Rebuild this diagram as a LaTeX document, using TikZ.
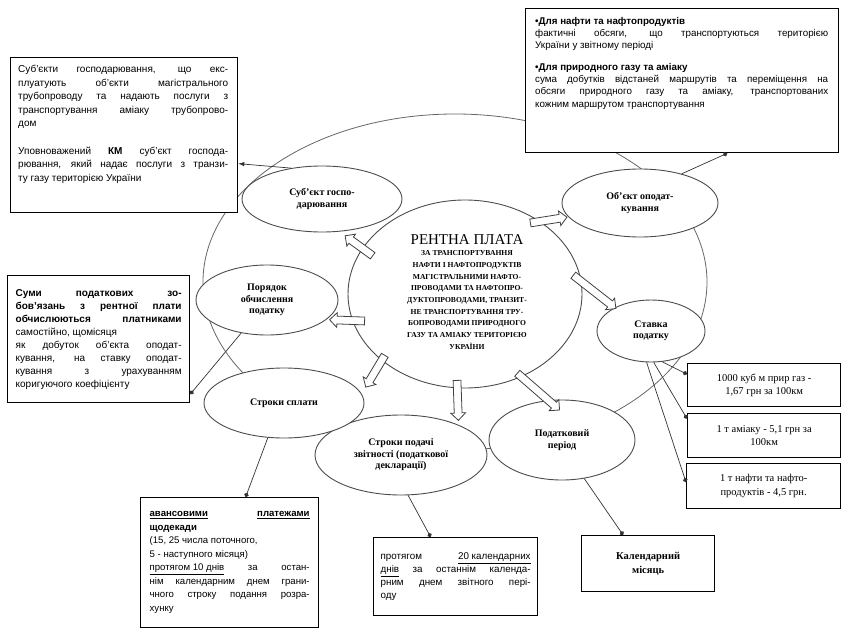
\documentclass[tikz,border=0pt]{standalone}
\usepackage{fontspec}
\setmainfont{Liberation Serif}
\setsansfont{Liberation Sans}
\usetikzlibrary{shapes.geometric,shapes.arrows,arrows.meta,positioning,calc}
\tikzset{>=latex}
\tikzset{
  ovl/.style={ellipse, draw=black!70, line width=0.9pt, fill=white, inner sep=0pt, align=center, font=\fontsize{10}{11.5}\selectfont\bfseries},
  frm/.style={draw, line width=1.3pt, fill=white, inner sep=0pt},
  boxtxt/.style={align=justify, inner sep=0pt, font=\sffamily\fontsize{10}{13.5}\selectfont},
  lnk/.style={line width=0.7pt, black!80, -{Circle[length=4.5pt]}},
  blk/.style={single arrow, draw=black!75, line width=0.8pt, fill=white, inner sep=3.5pt, single arrow head extend=3.5pt, anchor=tail},
}

\begin{document}
\begin{tikzpicture}[x=1pt,y=-1pt]
\useasboundingbox (0,0) rectangle (844,629);
% ring through the ovals
\node[draw=black!60, line width=0.8pt, ellipse, minimum width=504, minimum height=336, inner sep=0pt] (ring) at (455,282) {};

% centre
\node[ovl, minimum width=234, minimum height=188] (rp) at (465,294) {};
\node[font=\fontsize{15}{17}\selectfont] (rpt) at (467,240) {РЕНТНА ПЛАТА};
\node[align=center, font=\fontsize{7.6}{11.7}\selectfont\bfseries] (rps) at (467,300) {ЗА ТРАНСПОРТУВАННЯ\\ НАФТИ І НАФТОПРОДУКТІВ\\ МАГІСТРАЛЬНИМИ НАФТО-\\ ПРОВОДАМИ ТА НАФТОПРО-\\ ДУКТОПРОВОДАМИ, ТРАНЗИТ-\\ НЕ ТРАНСПОРТУВАННЯ ТРУ-\\ БОПРОВОДАМИ ПРИРОДНОГО\\ ГАЗУ ТА АМІАКУ ТЕРИТОРІЄЮ\\ УКРАЇНИ};

% ovals
\node[ovl, minimum width=160, minimum height=66] (sub) at (322,199) {Суб'єкт госпо-\\дарювання};
\node[ovl, minimum width=156, minimum height=68] (obj) at (640,203) {Об'єкт оподат-\\кування};
\node[ovl, minimum width=108, minimum height=62] (sta) at (651,331) {Ставка\\податку};
\node[ovl, minimum width=146, minimum height=80] (per) at (562,440) {Податковий\\період};
\node[ovl, minimum width=172, minimum height=80] (spd) at (401,455) {Строки подачі\\звітності (податкової\\декларації)};
\node[ovl, minimum width=160, minimum height=70] (spl) at (284,403) {Строки сплати};
\node[ovl, minimum width=142, minimum height=70] (por) at (267,300) {Порядок\\обчислення\\податку};

% boxes
\node[frm, minimum width=227, minimum height=155, anchor=north west] (tl) at (10,57) {};
\node[boxtxt, text width=210, anchor=north west] (tltxt) at (18,65) {Суб'єкти господарювання, що екс-\linebreak плуатують об'єкти магістрального\linebreak трубопроводу та надають послуги з\linebreak транспортування аміаку трубопрово-\linebreak дом\\[14pt] Уповноважений \textbf{КМ} суб'єкт господа-\linebreak рювання, який надає послуги з транзи-\linebreak ту газу територією України};

\node[frm, minimum width=313, minimum height=144, anchor=north west] (tr) at (525,8) {};
\node[boxtxt, text width=293, anchor=north west, font=\sffamily\fontsize{9.8}{12.3}\selectfont] (trtxt) at (535,17) {\textbf{•Для нафти та нафтопродуктів}\\ фактичні обсяги, що транспортуються територією\linebreak України у звітному періоді\\[9pt] \textbf{•Для природного газу та аміаку}\\ сума добутків відстаней маршрутів та переміщення на\linebreak обсяги природного газу та аміаку, транспортованих\linebreak кожним маршрутом транспортування};

\node[frm, boxtxt, text width=166, minimum height=127, inner xsep=8pt, anchor=north west, font=\sffamily\fontsize{10}{13}\selectfont] (lb) at (7,275) {\textbf{Суми податкових зо-\linebreak бов'язань з рентної плати\linebreak обчислюються платниками}\linebreak самостійно, щомісяця\\ як добуток об'єкта оподат-\linebreak кування, на ставку оподат-\linebreak кування з урахуванням\linebreak коригуючого коефіцієнту};

\node[frm, boxtxt, text width=160, minimum height=130, inner xsep=9pt, anchor=north west, font=\sffamily\fontsize{9.6}{13.5}\selectfont] (bl) at (140,497) {\underline{\textbf{авансовими}} \underline{\textbf{платежами}}\linebreak \textbf{щодекади}\\ (15, 25 числа поточного,\\ 5 - наступного місяця)\\ \underline{протягом 10 днів} за остан-\linebreak нім календарним днем грани-\linebreak чного строку подання розра-\linebreak хунку};

\node[frm, boxtxt, text width=150, minimum height=78, inner xsep=7pt, anchor=north west, font=\sffamily\fontsize{9.8}{13}\selectfont] (bm) at (373,537) {протягом \underline{20 календарних}\linebreak \underline{днів} за останнім календа-\linebreak рним днем звітного пері-\linebreak оду};

\node[frm, minimum width=133, minimum height=56, anchor=north west, align=center, font=\fontsize{10.5}{14}\selectfont\bfseries] (br) at (581,535) {Календарний\\місяць};

\node[frm, minimum width=153, minimum height=43, anchor=north west, align=center, font=\fontsize{10.5}{13.5}\selectfont] (r1) at (687,363) {1000 куб м прир газ -\\1,67 грн за 100км};
\node[frm, minimum width=153, minimum height=44, anchor=north west, align=center, font=\fontsize{10.5}{13.5}\selectfont] (r2) at (687,413) {1 т аміаку - 5,1 грн за\\100км};
\node[frm, minimum width=154, minimum height=45, anchor=north west, align=center, font=\fontsize{10.5}{13.5}\selectfont] (r3) at (686,463) {1 т нафти та нафто-\\продуктів - 4,5 грн.};

% links to the boxes
\draw[line width=0.7pt, black!80, -{Latex[length=6pt]}] (sub.135) -- ([yshift=-28.5pt]tl.east);
\draw[lnk] (obj.35) -- ([xshift=45pt]tr.south);
\draw[lnk] (por.232) -- ([yshift=-55pt]lb.east);
\draw[lnk] (spl.245) -- ([xshift=16pt]bl.north);
\draw[lnk] (spd.280) -- ([xshift=-25pt]bm.north);
\draw[lnk] (per.300) -- ([xshift=-25pt]br.north);
\draw[lnk] (sta.290) -- ([yshift=11pt]r1.west);
\draw[lnk] (sta.275) -- ([yshift=17pt]r2.west);
\draw[lnk] (sta.262) -- ([yshift=4pt]r3.west);

% hollow arrows from the centre
\node[blk, minimum height=34, rotate=144] (a1) at (373,256) {};
\node[blk, minimum height=37, rotate=9] (a2) at (530,223) {};
\node[blk, minimum height=54, rotate=-38] (a3) at (573,275) {};
\node[blk, minimum height=56, rotate=-41] (a4) at (517,373) {};
\node[blk, minimum height=40, rotate=-88] (a5) at (457,380) {};
\node[blk, minimum height=37, rotate=-121] (a6) at (385,355) {};
\node[blk, minimum height=35, rotate=178] (a7) at (365,321) {};
\end{tikzpicture}
\end{document}
